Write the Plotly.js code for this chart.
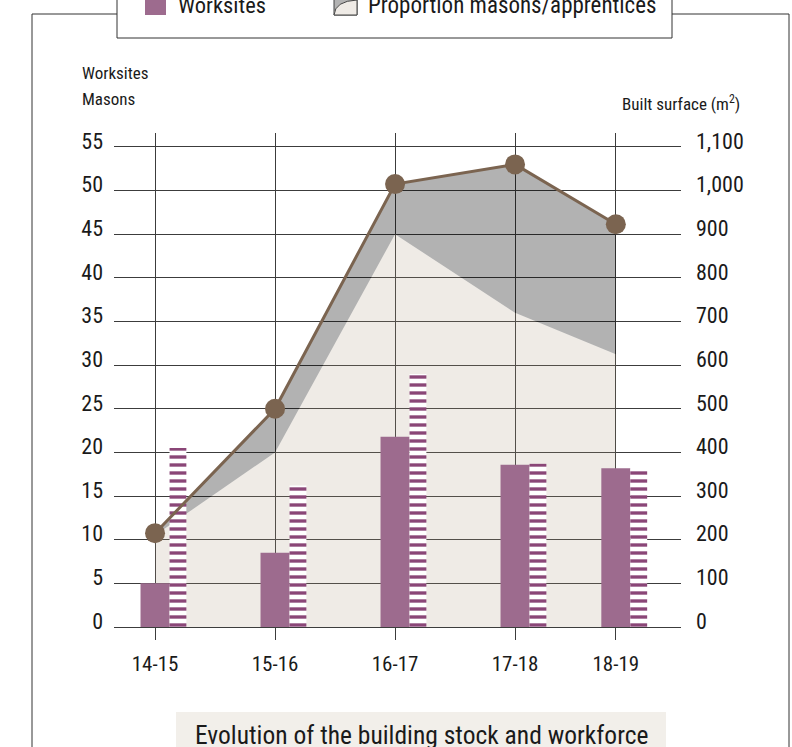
<!DOCTYPE html>
<html><head><meta charset="utf-8">
<script src="https://cdn.plot.ly/plotly-3.0.1.min.js"></script>
<style>html,body{margin:0;padding:0;background:#fff;} #chart{width:792px;height:747px;}</style>
</head><body><div id="chart"></div>
<script>
// ---- data ----
const seasons = ['14-15', '15-16', '16-17', '17-18', '18-19'];
const worksites = [5, 8.5, 21.8, 18.6, 18.2];
const masons = [20.5, 16.2, 29, 18.7, 18.2];
const builtSurface = [215, 500, 1015, 1060, 923];
const masonShareSurface = [210, 400, 900, 720, 625];
const leftTicks = [0, 5, 10, 15, 20, 25, 30, 35, 40, 45, 50, 55];
const rightTicks = [0, 100, 200, 300, 400, 500, 600, 700, 800, 900, 1000, 1100];
const rightTickLabels = ['0', '100', '200', '300', '400', '500', '600', '700', '800', '900', '1,000', '1,100'];

// ---- layout geometry ----
const W = 792, H = 747, L = 114, R = 681, T = 133, B = 640;
const catPos = [0, 1, 2, 3, 3.84];
const FONT = 'Roboto Condensed, Liberation Sans Narrow, Arial Narrow, DejaVu Sans Condensed, Roboto, sans-serif';
const px = x => (x - L) / (R - L);
const py = y => (B - y) / (B - T);

const ink = '#1a1a1a';
const grid = '#3c3c3c';
const purple = '#9d6b8e';
const stripe = '#8a4677';
const brown = '#7b6450';

const surfRange = [-29.8, 1132];
const countRange = [surfRange[0] / 20, surfRange[1] / 20];

const traces = [
  { // beige area (masons share)
    x: catPos, y: masonShareSurface, type: 'scatter', mode: 'none',
    fill: 'tozeroy', fillcolor: 'rgba(175,155,130,0.2)', xaxis: 'x', yaxis: 'y',
    hoverinfo: 'skip', showlegend: false
  },
  { // gray area (remaining up to built surface)
    x: catPos, y: builtSurface, type: 'scatter', mode: 'none',
    fill: 'tonexty', fillcolor: 'rgba(0,0,0,0.3)', xaxis: 'x', yaxis: 'y',
    hoverinfo: 'skip', showlegend: false
  },
  { // worksites bars
    x: catPos, y: worksites, type: 'bar', xaxis: 'x', yaxis: 'y2',
    width: 0.242, offset: -0.121, marker: { color: purple, line: { width: 0 } },
    showlegend: false
  },
  { // masons bars (striped)
    x: catPos, y: masons, type: 'bar', xaxis: 'x', yaxis: 'y2',
    width: 0.14, offset: 0.121,
    marker: { color: '#ffffff', line: { width: 0 },
      pattern: { shape: '-', fgcolor: stripe, bgcolor: '#ffffff', size: 8, solidity: 0.42, fillmode: 'replace' } },
    showlegend: false
  },
  { // built surface line
    x: catPos, y: builtSurface, type: 'scatter', mode: 'lines+markers',
    line: { color: brown, width: 3 }, marker: { color: brown, size: 20 },
    xaxis: 'x', yaxis: 'y3', showlegend: false
  }
];

const tickFont = { family: FONT, size: 22, color: ink };

const layout = {
  width: W, height: H,
  margin: { l: L, r: W - R, t: T, b: H - B, pad: 0 },
  paper_bgcolor: '#ffffff', plot_bgcolor: 'rgba(0,0,0,0)',
  barmode: 'overlay',
  showlegend: false,
  xaxis: {
    range: [-0.342, 4.383], tickvals: catPos, ticktext: seasons,
    showgrid: true, gridcolor: grid, gridwidth: 1, zeroline: false,
    showline: false, ticks: '', tickfont: { family: FONT, size: 21, color: ink },
    ticklabelstandoff: 9, fixedrange: true
  },
  yaxis: { // built surface (right)
    side: 'right', range: surfRange, tickvals: rightTicks, ticktext: rightTickLabels,
    showgrid: true, gridcolor: grid, gridwidth: 1, zeroline: false, showline: false,
    ticks: '', tickfont: tickFont, ticklabelstandoff: 14, ticklabelshift: -6
  },
  yaxis2: { // counts (left)
    side: 'left', overlaying: 'y', range: countRange, tickvals: leftTicks,
    showgrid: false, zeroline: false, showline: false, ticks: '',
    tickfont: tickFont, ticklabelstandoff: 10, ticklabelshift: -6
  },
  yaxis3: { overlaying: 'y', range: surfRange, visible: false },
  annotations: [
    { text: 'Worksites', xref: 'paper', yref: 'paper', x: px(80), y: py(73), xanchor: 'left', yanchor: 'middle', showarrow: false, font: { family: FONT, size: 17, color: ink } },
    { text: 'Masons', xref: 'paper', yref: 'paper', x: px(80), y: py(99), xanchor: 'left', yanchor: 'middle', showarrow: false, font: { family: FONT, size: 17, color: ink } },
    { text: 'Built surface (m<sup>2</sup>)', xref: 'paper', yref: 'paper', x: px(742), y: py(103), xanchor: 'right', yanchor: 'middle', showarrow: false, font: { family: FONT, size: 17, color: ink } },
    { text: 'Worksites', xref: 'paper', yref: 'paper', x: px(176), y: py(5), xanchor: 'left', yanchor: 'middle', showarrow: false, font: { family: FONT, size: 22.5, color: ink } },
    { text: 'Proportion masons/apprentices', xref: 'paper', yref: 'paper', x: px(366), y: py(5), xanchor: 'left', yanchor: 'middle', showarrow: false, font: { family: FONT, size: 23, color: ink } },
    { text: 'Evolution of the building stock and workforce', xref: 'paper', yref: 'paper', x: px(421), y: py(735), xanchor: 'center', yanchor: 'middle', showarrow: false, font: { family: FONT, size: 25.5, color: ink } }
  ],
  shapes: [
    // outer frame
    { type: 'path', xref: 'paper', yref: 'paper', path: `M${px(32)},${py(760)} L${px(32)},${py(14)} L${px(117)},${py(14)}`, line: { color: '#333', width: 1 } },
    { type: 'path', xref: 'paper', yref: 'paper', path: `M${px(672)},${py(14)} L${px(789)},${py(14)} L${px(789)},${py(760)}`, line: { color: '#333', width: 1 } },
    // legend box
    { type: 'rect', xref: 'paper', yref: 'paper', x0: px(117), x1: px(672), y0: py(-5), y1: py(38), line: { color: '#333', width: 1 }, fillcolor: '#ffffff' },
    { type: 'rect', xref: 'paper', yref: 'paper', x0: px(145), x1: px(166), y0: py(-5), y1: py(15), line: { width: 0 }, fillcolor: purple },
    { type: 'rect', xref: 'paper', yref: 'paper', x0: px(334), x1: px(357), y0: py(-5), y1: py(15), line: { color: '#444', width: 1 }, fillcolor: '#b3b3b3' },
    { type: 'path', xref: 'paper', yref: 'paper', path: `M${px(334)},${py(15)} Q${px(335)},${py(1)} ${px(357)},${py(0)} L${px(357)},${py(15)} Z`, line: { color: '#444', width: 1 }, fillcolor: '#efebe6' },
    // title box
    { type: 'rect', xref: 'paper', yref: 'paper', x0: px(176), x1: px(666), y0: py(712), y1: py(760), line: { width: 0 }, fillcolor: '#f2efea', layer: 'below' }
  ]
};

Plotly.newPlot('chart', traces, layout, { staticPlot: true, displayModeBar: false });
</script>
</body></html>
